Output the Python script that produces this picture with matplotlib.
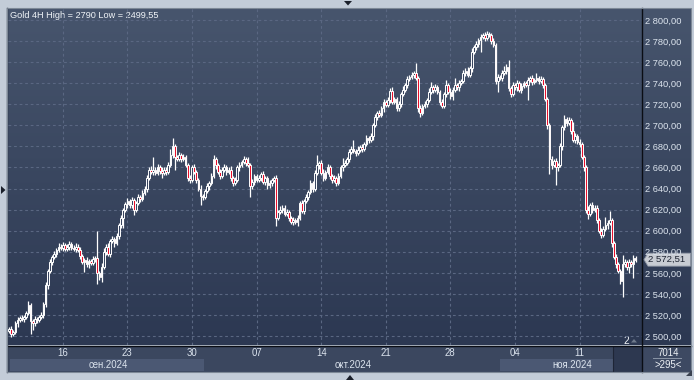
import matplotlib
matplotlib.use("Agg")
import matplotlib.pyplot as plt
import numpy as np
from matplotlib.patches import Rectangle, Polygon
from matplotlib.ticker import FuncFormatter, FixedLocator

# ---------------- data (Gold 4H, ~292 bars) ----------------
first_open = 2505
closes = [
    2507, 2502, 2504, 2512, 2515, 2517, 2516, 2518, 2522, 2529,
    2514, 2512, 2516, 2515, 2518, 2520, 2530, 2548, 2562, 2570,
    2575, 2578, 2582, 2585, 2584, 2586, 2583, 2585, 2587, 2584,
    2583, 2585, 2582, 2576, 2570, 2572, 2568, 2571, 2569, 2573,
    2574, 2560, 2556, 2566, 2580, 2585, 2578, 2590, 2592, 2588,
    2595, 2605, 2612, 2620, 2625, 2628, 2624, 2629, 2620, 2626,
    2632, 2630, 2636, 2640, 2650, 2658, 2656, 2658, 2655, 2660,
    2657, 2655, 2658, 2656, 2662, 2672, 2680, 2670, 2668, 2672,
    2668, 2670, 2662, 2650, 2648, 2660, 2656, 2648, 2640, 2633,
    2632, 2638, 2642, 2645, 2652, 2668, 2662, 2656, 2652, 2658,
    2660, 2656, 2658, 2650, 2645, 2648, 2660, 2662, 2665, 2668,
    2664, 2662, 2642, 2646, 2652, 2648, 2650, 2654, 2646, 2650,
    2643, 2645, 2648, 2650, 2612, 2618, 2620, 2622, 2616, 2618,
    2612, 2608, 2610, 2608, 2612, 2626, 2619, 2628, 2632, 2637,
    2645, 2640, 2655, 2662, 2664, 2655, 2650, 2656, 2660, 2652,
    2648, 2650, 2645, 2652, 2660, 2662, 2664, 2668, 2675, 2678,
    2676, 2674, 2677, 2679, 2678, 2682, 2688, 2686, 2690, 2700,
    2708, 2712, 2710, 2716, 2722, 2719, 2724, 2733, 2722, 2725,
    2716, 2720, 2730, 2734, 2738, 2744, 2746, 2748, 2750, 2745,
    2716, 2712, 2718, 2720, 2724, 2732, 2736, 2734, 2736, 2732,
    2722, 2718, 2730, 2738, 2732, 2728, 2734, 2738, 2736, 2740,
    2742, 2750, 2752, 2748, 2754, 2770, 2774, 2777, 2781, 2784,
    2786, 2783, 2787, 2786, 2780, 2776, 2742, 2746, 2745, 2750,
    2752, 2755, 2735, 2730, 2738, 2736, 2740, 2734, 2737, 2740,
    2738, 2743, 2745, 2741, 2743, 2745, 2742, 2744, 2738, 2725,
    2700, 2668, 2662, 2666, 2660, 2662, 2680, 2698, 2706, 2702,
    2705, 2695, 2686, 2690, 2684, 2682, 2670, 2660, 2620, 2616,
    2624, 2620, 2622, 2610, 2600, 2596, 2602, 2605, 2607, 2610,
    2588, 2575, 2568, 2562, 2552, 2568, 2570, 2566, 2570, 2568,
    2574, 2572.51,
]
wick_up = [
    2, 3, 2, 2, 3, 2, 3, 2, 2, 4, 2, 2, 3, 2, 2, 3, 2, 3, 2, 3,
    2, 3, 2, 3, 2, 3, 2, 2, 3, 2, 2, 3, 2, 3, 2, 2, 3, 2, 2, 3,
    2, 26, 2, 3, 4, 2, 3, 2, 3, 2, 3, 2, 3, 2, 2, 3, 2, 3, 2, 2,
    3, 2, 3, 2, 3, 2, 3, 12, 2, 3, 2, 3, 2, 2, 3, 6, 8, 2, 2, 3,
    2, 3, 2, 2, 3, 2, 3, 2, 2, 3, 2, 2, 3, 2, 3, 4, 2, 2, 3, 2,
    3, 2, 2, 3, 2, 3, 2, 3, 2, 3, 2, 6, 2, 3, 2, 2, 3, 2, 3, 2,
    2, 3, 2, 2, 3, 2, 3, 2, 2, 3, 2, 2, 3, 2, 3, 2, 3, 2, 3, 2,
    3, 2, 3, 10, 2, 3, 4, 2, 3, 2, 2, 3, 2, 3, 2, 7, 3, 2, 3, 2,
    8, 2, 3, 2, 3, 2, 3, 2, 3, 2, 3, 2, 3, 2, 3, 2, 3, 2, 3, 2,
    2, 3, 2, 3, 2, 3, 2, 3, 2, 9, 2, 3, 2, 3, 2, 3, 5, 2, 3, 2,
    2, 3, 2, 5, 2, 3, 2, 7, 2, 3, 2, 3, 2, 3, 2, 3, 2, 3, 2, 3,
    2, 3, 3, 2, 2, 3, 2, 3, 2, 3, 4, 3, 7, 2, 3, 2, 3, 2, 3, 2,
    2, 3, 2, 3, 2, 5, 2, 3, 2, 2, 2, 2, 3, 2, 3, 2, 3, 2, 4, 2,
    3, 2, 8, 3, 2, 3, 2, 2, 2, 3, 2, 3, 2, 2, 2, 3, 2, 8, 3, 9,
    2, 2, 3, 2, 2, 9, 3, 2, 3, 2, 3, 2,
]
wick_dn = [
    2, 2.45, 2, 2, 3, 2, 2, 3, 2, 2, 12, 6, 2, 3, 2, 2, 3, 2, 3, 2,
    3, 2, 3, 2, 2, 3, 2, 2, 3, 2, 2, 3, 2, 3, 2, 9, 2, 3, 2, 2,
    3, 11, 3, 5, 2, 3, 2, 3, 2, 3, 2, 3, 2, 9, 2, 3, 2, 2, 5, 2,
    2, 3, 2, 2, 3, 2, 2, 3, 2, 2, 3, 5, 2, 3, 2, 2, 3, 12, 2, 2,
    3, 2, 2, 3, 3, 2, 2, 3, 2, 9, 3, 2, 2, 3, 2, 2, 3, 2, 3, 2,
    2, 3, 2, 3, 3, 2, 2, 3, 2, 2, 3, 2, 10, 2, 3, 2, 2, 3, 2, 3,
    3, 2, 3, 2, 8, 2, 2, 3, 2, 2, 3, 2, 3, 2, 4, 2, 2, 3, 2, 3,
    2, 3, 2, 2, 3, 2, 3, 2, 2, 3, 3, 2, 3, 2, 2, 3, 2, 2, 3, 2,
    2, 3, 2, 2, 3, 2, 2, 3, 2, 4, 2, 3, 2, 2, 3, 2, 2, 3, 2, 2,
    2, 2, 3, 2, 2, 3, 2, 2, 3, 2, 3, 4, 2, 2, 3, 2, 2, 3, 2, 2,
    3, 2, 2, 3, 2, 3, 4, 2, 2, 3, 2, 2, 3, 2, 2, 3, 2, 2, 3, 11,
    2, 3, 2, 2, 3, 2, 3, 10, 2, 3, 2, 3, 2, 3, 2, 2, 3, 2, 3, 2,
    2, 14, 2, 3, 2, 2, 3, 2, 3, 2, 3, 14, 3, 2, 17, 3, 2, 3, 2, 3,
    2, 3, 2, 3, 2, 3, 2, 3, 3, 5, 2, 3, 2, 3, 2, 3, 2, 2, 3, 2,
    3, 2, 3, 2, 3, 15, 2, 3, 6, 2, 13, 2,
]
opens = [first_open] + closes[:-1]

date_tick_bars = [25, 55, 85, 115, 145, 175, 205, 235, 265]
date_tick_labels = ["16", "23", "30", "07", "14", "21", "28", "04", "11"]
month_labels = ["сен.2024", "окт.2024", "ноя.2024"]
price_ticks = [2500, 2520, 2540, 2560, 2580, 2600, 2620, 2640, 2660, 2680,
               2700, 2720, 2740, 2760, 2780, 2800]
title_text = "Gold 4H High = 2790 Low = 2499,55"
last_price = 2572.51
info_top, info_bottom = "7014", ">295<"

# ---------------- figure ----------------
W, H = 694, 380
plt.rcParams['font.family'] = ['Liberation Sans', 'DejaVu Sans']
fig = plt.figure(figsize=(W / 100, H / 100), dpi=100)
fig.patch.set_facecolor('#c3ccd8')

ov = fig.add_axes([0, 0, 1, 1], zorder=0)
ov.set_xlim(0, W)
ov.set_ylim(H, 0)
ov.axis('off')

# gradient background of chart + price scale
top_c = np.array([0x47, 0x55, 0x6d]) / 255
bot_c = np.array([0x2c, 0x38, 0x52]) / 255
t = np.linspace(0, 1, 256)[:, None]
grad = (top_c[None, :] * (1 - t) + bot_c[None, :] * t)[:, None, :]
ov.imshow(grad, extent=(8, 691, 345, 8), aspect='auto', interpolation='bilinear', zorder=0)

# bottom time axis area
ov.add_patch(Rectangle((8, 346), 634, 26, facecolor='#3b475f', edgecolor='none', zorder=1))
ov.add_patch(Rectangle((10, 358.5), 194, 12.5, facecolor='#4b5873', edgecolor='none', zorder=1.1))
ov.add_patch(Rectangle((500, 358.5), 113, 12.5, facecolor='#4b5873', edgecolor='none', zorder=1.1))
ov.add_patch(Rectangle((613, 346), 29, 26, facecolor='#2d3850', edgecolor='none', zorder=1.2))
ov.plot([613, 613], [347, 371], color='#1e2536', lw=0.8, zorder=1.3)
ov.add_patch(Rectangle((643, 346), 48, 26, facecolor='#3d4962', edgecolor='none', zorder=1))

# separators
ov.plot([642.5, 642.5], [8, 372], color='#0a0d14', lw=1.0, zorder=3)
ov.plot([8, 691], [345.5, 345.5], color='#0a0d14', lw=1.0, zorder=3)
ov.plot([7.5, 7.5], [8, 372], color='#1a2030', lw=1.0, zorder=3)
ov.add_patch(Rectangle((7.5, 7.5), 684, 364.5, facecolor='none', edgecolor='#7d8896', lw=0.8, zorder=3))

# outer UI markers
ov.add_patch(Polygon([(344, 1), (352, 1), (348, 5.5)], closed=True, facecolor='#1a1f2a', zorder=4))
ov.add_patch(Polygon([(1, 186), (1, 194), (5.5, 190)], closed=True, facecolor='#1a1f2a', zorder=4))
ov.add_patch(Polygon([(346, 380), (354, 380), (350, 375)], closed=True, facecolor='#1a1f2a', zorder=4))
ov.add_patch(Polygon([(686, 376), (692, 376), (692, 370)], closed=True, facecolor='#3a4250', zorder=4))

# texts
txtc = '#dce4ee'
ov.text(10, 15, title_text, color='#f0f4f8', fontsize=6.6, ha='left', va='center', zorder=5)
ov.text(626.5, 340.5, "2", color='#f0f4f8', fontsize=7.2, ha='center', va='center', zorder=5)
ov.add_patch(Polygon([(631, 342.5), (637, 342.5), (634, 339)], closed=True, facecolor='#6f7a8c', zorder=5))
ov.text(108, 365, month_labels[0], color=txtc, fontsize=6.9, ha='center', va='center', zorder=5)
ov.text(353, 365, month_labels[1], color=txtc, fontsize=6.9, ha='center', va='center', zorder=5)
ov.text(572, 365, month_labels[2], color=txtc, fontsize=6.9, ha='center', va='center', zorder=5)
ov.text(668, 352.7, info_top, color='#eef2f6', fontsize=6.9, ha='center', va='center', zorder=5)
ov.plot([653, 681], [358.3, 358.3], color='#8a95a6', lw=0.7, zorder=5)
ov.text(668, 365, info_bottom, color='#eef2f6', fontsize=6.9, ha='center', va='center', zorder=5)

# ---------------- candles ----------------
ax = fig.add_axes([8 / W, 1 - 345 / H, 634 / W, 337 / H], zorder=2)
ax.patch.set_alpha(0)
ymin, ymax = 2491.5, 2811.4
ax.set_ylim(ymin, ymax)
ax.set_xlim(-0.46, 294.0)

idx = np.arange(len(closes))
o = np.array(opens, dtype=float)
c = np.array(closes, dtype=float)
top = np.maximum(o, c)
bot = np.minimum(o, c)
hi = top + np.array(wick_up, dtype=float)
lo = bot - np.array(wick_dn, dtype=float)
bear = c < o

ax.vlines(idx, lo, hi, color='white', lw=0.9, zorder=3)
heights = np.maximum(top - bot, 0.8)
face = np.where(bear, '#e8102c', '#3a4660')
ax.bar(idx, heights, bottom=bot, width=0.78, color=face, edgecolor='white',
       linewidth=0.7, zorder=4)

# grid
ax.yaxis.set_major_locator(FixedLocator(price_ticks))
ax.xaxis.set_major_locator(FixedLocator(date_tick_bars))
ax.set_xticklabels(date_tick_labels)
ax.grid(True, color='#5a6782', lw=0.8, linestyle=(0, (2.5, 2.5)), zorder=1)
ax.set_axisbelow(True)
for s in ax.spines.values():
    s.set_visible(False)

ax.yaxis.tick_right()
ax.yaxis.set_major_formatter(FuncFormatter(
    lambda v, p: f"{int(round(v)):,}".replace(",", " ") + ",00"))
ax.tick_params(axis='y', length=0, pad=2.3, labelsize=6.7, labelcolor=txtc)
ax.tick_params(axis='x', length=0, pad=2.0, labelsize=6.9, labelcolor=txtc)

# current price label (covers part of the 2 580,00 label as in the terminal)
y_last = 8 + (ymax - last_price) / (ymax - ymin) * 337
ov.add_patch(Polygon([(644, y_last), (648, y_last - 6.5), (690.5, y_last - 6.5),
                      (690.5, y_last + 6.5), (648, y_last + 6.5)], closed=True,
                     facecolor='#c8ccd3', edgecolor='#8d95a3', lw=0.6, zorder=6))
ov.text(648, y_last, f"{last_price:,.2f}".replace(",", " ").replace(".", ","),
        color='#1c2230', fontsize=6.8, ha='left', va='center', zorder=7)

fig.savefig("out.png", dpi=100, facecolor=fig.get_facecolor())
